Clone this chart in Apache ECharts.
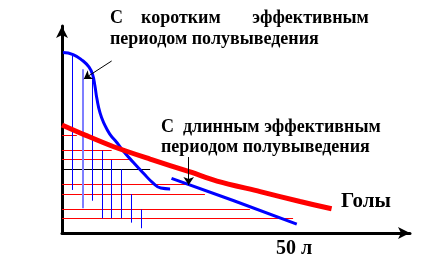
<!DOCTYPE html>
<html>
<head>
<meta charset="utf-8">
<script src="https://cdn.jsdelivr.net/npm/echarts@6/dist/echarts.min.js"></script>
<style>
html,body{margin:0;padding:0;background:#fff;}
#chart{width:421px;height:265px;}
</style>
</head>
<body>
<div id="chart"></div>
<script>
// Curve "Голы" (red)
const golyCurve = [[0,52.2],[5,47.3],[11,41.8],[19,35.7],[27.6,29.5],[33.4,25.1],[42.7,20],[51.3,15.2],[58.1,11.7]];
// Short effective half-life (blue)
const shortCurve = [[0.2,87.2],[2.4,86.2],[4.5,83.2],[5.8,80.2],[6.6,76.5],[7.1,71.0],[7.5,65.2],[8.2,58.0],[9.1,52.7],[10.3,47.8],[11.9,43.5],[13.2,39.6],[15.3,34.3],[17.5,29.0],[19.6,24.2],[21.3,21.7],[23.3,21.3]];
// Long effective half-life (blue)
const longCurve = [[23.6,26.4],[36.9,15.7],[50.6,4.3]];
// Vertical drop lines: [x, top, bottom]
const vLines = [[2.2,85.8,20.8],[6.5,74.5,15.6],[8.6,39.8,7.1],[10.7,35.3,7.1],[12.7,30.8,7.1],[14.9,18.7,5.0],[17.0,11.4,2.3]];
const vLinesLight = [[4.4,79.1,11.9]];
// Horizontal red lines: [y, xEnd]
const hLinesRed = [[47.3,3.2],[39.9,10.7],[35.6,15.0],[23.5,26.9],[18.8,30.8],[11.4,40.5],[7.1,49.8]];
const hLinesBlack = [[30.8,19.0]];
// Annotation arrows: [[x0,y0],[x1,y1]]
const arrowsAnn = [[[10.7,83.1],[4.7,74.4]],[[27.3,36.7],[27.3,23.2]]];
// Tick label
const xTickValue = 50;
const xTickLabel = '50 л';

const chart = echarts.init(document.getElementById('chart'));
const vData = vLines.map(v => ({coords: [[v[0], v[1]], [v[0], v[2]]]}));
const vDataLight = vLinesLight.map(v => ({coords: [[v[0], v[1]], [v[0], v[2]]]}));
const hDataRed = hLinesRed.map(h => ({coords: [[0, h[0]], [h[1], h[0]]]}));
const hDataBlack = hLinesBlack.map(h => ({coords: [[0, h[0]], [h[1], h[0]]]}));
const arrowData = arrowsAnn.map(a => ({coords: a}));

const serif = '"Liberation Serif", "Times New Roman", serif';
chart.setOption({
  animation: false,
  backgroundColor: '#fff',
  grid: {left: 62, right: 11, top: 26, bottom: 32},
  xAxis: {
    type: 'value', min: 0, max: 75, interval: 10,
    axisLine: {show: true, lineStyle: {color: '#000', width: 3}, symbol: ['none','arrow'], symbolSize: [9,12], onZero: false},
    axisTick: {show: false},
    splitLine: {show: false},
    axisLabel: {
      customValues: [xTickValue],
      formatter: v => (v === xTickValue ? xTickLabel : ''),
      color: '#000', fontFamily: serif, fontWeight: 'bold', fontSize: 20, margin: 6
    }
  },
  yAxis: {
    type: 'value', min: 0, max: 100,
    axisLine: {show: true, lineStyle: {color: '#000', width: 3}, symbol: ['none','arrow'], symbolSize: [9,12], onZero: false},
    axisTick: {show: false},
    splitLine: {show: false},
    axisLabel: {show: false}
  },
  series: [
    {type: 'lines', coordinateSystem: 'cartesian2d', data: hDataRed, lineStyle: {color: '#ff0000', width: 1, opacity: 1}, silent: true, z: 2},
    {type: 'lines', coordinateSystem: 'cartesian2d', data: hDataBlack, lineStyle: {color: '#000', width: 1, opacity: 1}, silent: true, z: 2},
    {type: 'lines', coordinateSystem: 'cartesian2d', data: vData, lineStyle: {color: '#0000ff', width: 1, opacity: 1}, silent: true, z: 2},
    {type: 'lines', coordinateSystem: 'cartesian2d', data: vDataLight, lineStyle: {color: '#7f7fff', width: 2, opacity: 1}, silent: true, z: 2},
    {type: 'line', data: shortCurve, smooth: 0.5, showSymbol: false, lineStyle: {color: '#0000ff', width: 3}, z: 3},
    {type: 'line', data: longCurve, smooth: false, showSymbol: false, lineStyle: {color: '#0000ff', width: 3}, z: 3},
    {type: 'line', data: golyCurve, smooth: 0.3, showSymbol: false, lineStyle: {color: '#ff0000', width: 5}, z: 4},
    {type: 'lines', coordinateSystem: 'cartesian2d', data: arrowData, symbol: ['none','arrow'], symbolSize: 8, lineStyle: {color: '#000', width: 1, opacity: 1}, silent: true, z: 5}
  ],
  graphic: [
    {type: 'text', left: 110, top: 9, style: {text: 'С    коротким       эффективным', font: 'bold 18px ' + serif, fill: '#000'}},
    {type: 'text', left: 110, top: 30, style: {text: 'периодом полувыведения', font: 'bold 18px ' + serif, fill: '#000'}},
    {type: 'text', left: 161, top: 118, style: {text: 'С  длинным эффективным', font: 'bold 18px ' + serif, fill: '#000'}},
    {type: 'text', left: 161, top: 138, style: {text: 'периодом полувыведения', font: 'bold 18px ' + serif, fill: '#000'}},
    {type: 'text', left: 341, top: 191, style: {text: 'Голы', font: 'bold 21px ' + serif, fill: '#000'}}
  ]
});
</script>
</body>
</html>
